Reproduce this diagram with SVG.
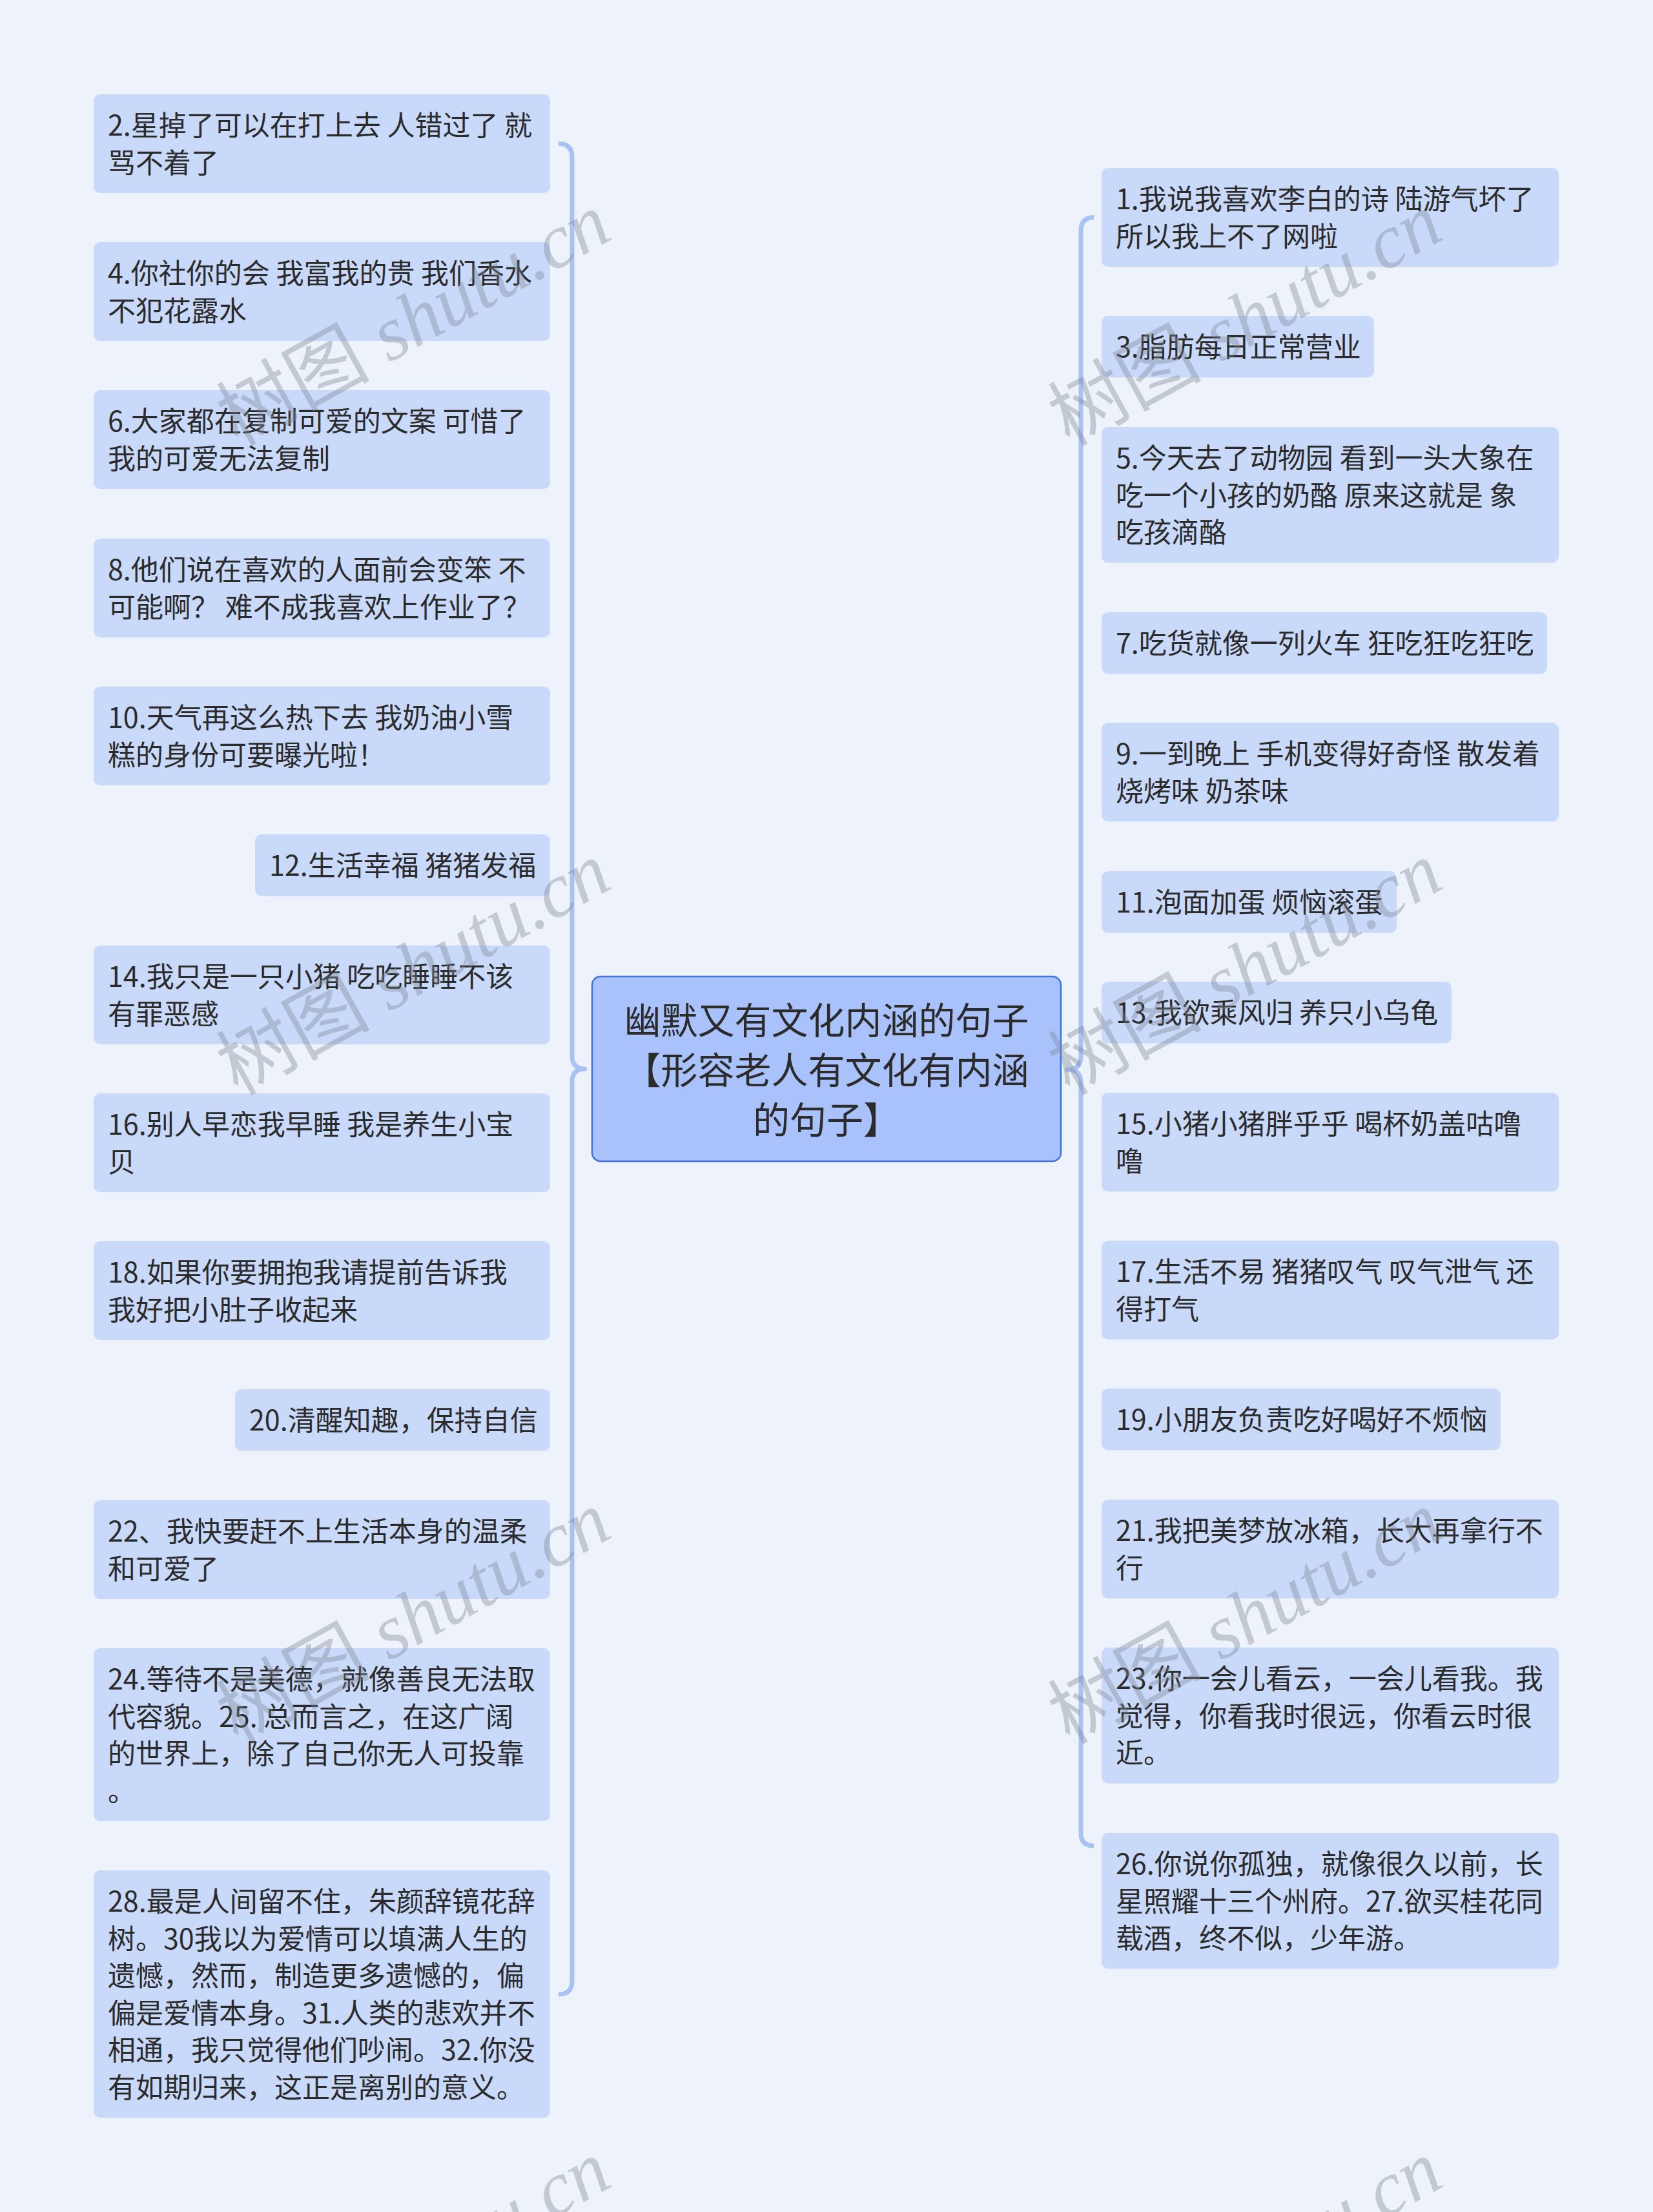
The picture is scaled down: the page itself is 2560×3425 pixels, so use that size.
<svg xmlns="http://www.w3.org/2000/svg" width="2560" height="3425" viewBox="0 0 2560 3425">
<style>
.bg{fill:#eef3fb}
.leaf rect{fill:#c9d9fa}
.leaf text{font-family:"Noto Sans CJK SC","Noto Sans",sans-serif;font-size:43px;fill:#2b2b2b}
.root rect{fill:#a9c2fb;stroke:#3f73dd;stroke-width:2.5}
.root text{font-family:"Noto Sans CJK SC","Noto Sans",sans-serif;font-size:57px;fill:#2b2b2b;text-anchor:middle}
.brace{fill:none;stroke:#a9c2f6;stroke-width:7;stroke-linecap:butt;stroke-linejoin:round}
.wm{font-size:119px;fill:#7f8590;fill-opacity:0.38;text-anchor:middle}
.wm .cjk{font-family:"Noto Sans CJK SC",sans-serif}
.wm .lat{font-family:"Liberation Serif",serif;font-style:italic}
</style>
<rect class="bg" x="0" y="0" width="2560" height="3425"/>

<g id="connectors">
<path class="brace" d="M865,222.5 Q886,222.5 886,243.5 L886,1635 Q886,1655 906,1655 Q886,1655 886,1675 L886,3067 Q886,3088 865,3088"/>
<path class="brace" d="M1694,336.5 Q1674,336.5 1674,357.5 L1674,1636 Q1674,1656 1653,1656 Q1674,1656 1674,1676 L1674,2838 Q1674,2858 1694,2858"/>
</g>

<g id="root" class="root">
<rect x="917" y="1512" width="726" height="286" rx="13"/>
<text x="1280" y="1601">幽默又有文化内涵的句子</text>
<text x="1280" y="1678">【形容老人有文化有内涵</text>
<text x="1280" y="1755">的句子】</text>
</g>

<g id="n2" class="leaf"><rect x="145" y="146" width="707" height="153" rx="10"/>
<text x="167" y="210">2.星掉了可以在打上去 人错过了 就</text><text x="167" y="267.5">骂不着了</text></g>
<g id="n4" class="leaf"><rect x="145" y="375" width="707" height="153" rx="10"/>
<text x="167" y="439">4.你社你的会 我富我的贵 我们香水</text><text x="167" y="496.5">不犯花露水</text></g>
<g id="n6" class="leaf"><rect x="145" y="604" width="707" height="153" rx="10"/>
<text x="167" y="668">6.大家都在复制可爱的文案 可惜了</text><text x="167" y="725.5">我的可爱无法复制</text></g>
<g id="n8" class="leaf"><rect x="145" y="834" width="707" height="153" rx="10"/>
<text x="167" y="898">8.他们说在喜欢的人面前会变笨 不</text><text x="167" y="955.5">可能啊？ 难不成我喜欢上作业了？</text></g>
<g id="n10" class="leaf"><rect x="145" y="1063" width="707" height="153" rx="10"/>
<text x="167" y="1127">10.天气再这么热下去 我奶油小雪</text><text x="167" y="1184.5">糕的身份可要曝光啦！</text></g>
<g id="n12" class="leaf"><rect x="395" y="1292" width="457" height="95.5" rx="10"/>
<text x="417" y="1356">12.生活幸福 猪猪发福</text></g>
<g id="n14" class="leaf"><rect x="145" y="1464" width="707" height="153" rx="10"/>
<text x="167" y="1528">14.我只是一只小猪 吃吃睡睡不该</text><text x="167" y="1585.5">有罪恶感</text></g>
<g id="n16" class="leaf"><rect x="145" y="1693" width="707" height="153" rx="10"/>
<text x="167" y="1757">16.别人早恋我早睡 我是养生小宝</text><text x="167" y="1814.5">贝</text></g>
<g id="n18" class="leaf"><rect x="145" y="1922" width="707" height="153" rx="10"/>
<text x="167" y="1986">18.如果你要拥抱我请提前告诉我</text><text x="167" y="2043.5">我好把小肚子收起来</text></g>
<g id="n20" class="leaf"><rect x="364" y="2151" width="488" height="95.5" rx="10"/>
<text x="386" y="2215">20.清醒知趣，保持自信</text></g>
<g id="n22" class="leaf"><rect x="145" y="2323" width="707" height="153" rx="10"/>
<text x="167" y="2387">22、我快要赶不上生活本身的温柔</text><text x="167" y="2444.5">和可爱了</text></g>
<g id="n24" class="leaf"><rect x="145" y="2552" width="707" height="268" rx="10"/>
<text x="167" y="2616">24.等待不是美德，就像善良无法取</text><text x="167" y="2673.5">代容貌。25. 总而言之，在这广阔</text><text x="167" y="2731">的世界上，除了自己你无人可投靠</text><text x="167" y="2788.5">。</text></g>
<g id="n28" class="leaf"><rect x="145" y="2896" width="707" height="383" rx="10"/>
<text x="167" y="2960">28.最是人间留不住，朱颜辞镜花辞</text><text x="167" y="3017.5">树。30我以为爱情可以填满人生的</text><text x="167" y="3075">遗憾，然而，制造更多遗憾的，偏</text><text x="167" y="3132.5">偏是爱情本身。31.人类的悲欢并不</text><text x="167" y="3190">相通，我只觉得他们吵闹。32.你没</text><text x="167" y="3247.5">有如期归来，这正是离别的意义。</text></g>

<g id="n1" class="leaf"><rect x="1706" y="260" width="708" height="153" rx="10"/>
<text x="1728" y="324">1.我说我喜欢李白的诗 陆游气坏了</text><text x="1728" y="381.5">所以我上不了网啦</text></g>
<g id="n3" class="leaf"><rect x="1706" y="489" width="422" height="95.5" rx="10"/>
<text x="1728" y="553">3.脂肪每日正常营业</text></g>
<g id="n5" class="leaf"><rect x="1706" y="661" width="708" height="210.5" rx="10"/>
<text x="1728" y="725">5.今天去了动物园 看到一头大象在</text><text x="1728" y="782.5">吃一个小孩的奶酪 原来这就是 象</text><text x="1728" y="840">吃孩滴酪</text></g>
<g id="n7" class="leaf"><rect x="1706" y="948" width="690" height="95.5" rx="10"/>
<text x="1728" y="1012">7.吃货就像一列火车 狂吃狂吃狂吃</text></g>
<g id="n9" class="leaf"><rect x="1706" y="1119" width="708" height="153" rx="10"/>
<text x="1728" y="1183">9.一到晚上 手机变得好奇怪 散发着</text><text x="1728" y="1240.5">烧烤味 奶茶味</text></g>
<g id="n11" class="leaf"><rect x="1706" y="1349" width="457" height="95.5" rx="10"/>
<text x="1728" y="1413">11.泡面加蛋 烦恼滚蛋</text></g>
<g id="n13" class="leaf"><rect x="1706" y="1520" width="542" height="95.5" rx="10"/>
<text x="1728" y="1584">13.我欲乘风归 养只小乌龟</text></g>
<g id="n15" class="leaf"><rect x="1706" y="1692" width="708" height="153" rx="10"/>
<text x="1728" y="1756">15.小猪小猪胖乎乎 喝杯奶盖咕噜</text><text x="1728" y="1813.5">噜</text></g>
<g id="n17" class="leaf"><rect x="1706" y="1921" width="708" height="153" rx="10"/>
<text x="1728" y="1985">17.生活不易 猪猪叹气 叹气泄气 还</text><text x="1728" y="2042.5">得打气</text></g>
<g id="n19" class="leaf"><rect x="1706" y="2150" width="618" height="95.5" rx="10"/>
<text x="1728" y="2214">19.小朋友负责吃好喝好不烦恼</text></g>
<g id="n21" class="leaf"><rect x="1706" y="2322" width="708" height="153" rx="10"/>
<text x="1728" y="2386">21.我把美梦放冰箱，长大再拿行不</text><text x="1728" y="2443.5">行</text></g>
<g id="n23" class="leaf"><rect x="1706" y="2551" width="708" height="210.5" rx="10"/>
<text x="1728" y="2615">23.你一会儿看云，一会儿看我。我</text><text x="1728" y="2672.5">觉得，你看我时很远，你看云时很</text><text x="1728" y="2730">近。</text></g>
<g id="n26" class="leaf"><rect x="1706" y="2838" width="708" height="210.5" rx="10"/>
<text x="1728" y="2902">26.你说你孤独，就像很久以前，长</text><text x="1728" y="2959.5">星照耀十三个州府。27.欲买桂花同</text><text x="1728" y="3017">载酒，终不似，少年游。</text></g>

<g id="watermarks" class="wm">
<text transform="translate(660,530) rotate(-29)"><tspan class="cjk">树图</tspan><tspan class="lat"> shutu.cn</tspan></text>
<text transform="translate(1948,530) rotate(-29)"><tspan class="cjk">树图</tspan><tspan class="lat"> shutu.cn</tspan></text>
<text transform="translate(660,1535) rotate(-29)"><tspan class="cjk">树图</tspan><tspan class="lat"> shutu.cn</tspan></text>
<text transform="translate(1948,1535) rotate(-29)"><tspan class="cjk">树图</tspan><tspan class="lat"> shutu.cn</tspan></text>
<text transform="translate(660,2540) rotate(-29)"><tspan class="cjk">树图</tspan><tspan class="lat"> shutu.cn</tspan></text>
<text transform="translate(1948,2540) rotate(-29)"><tspan class="cjk">树图</tspan><tspan class="lat"> shutu.cn</tspan></text>
<text transform="translate(660,3545) rotate(-29)"><tspan class="cjk">树图</tspan><tspan class="lat"> shutu.cn</tspan></text>
<text transform="translate(1948,3545) rotate(-29)"><tspan class="cjk">树图</tspan><tspan class="lat"> shutu.cn</tspan></text>
</g>
</svg>
